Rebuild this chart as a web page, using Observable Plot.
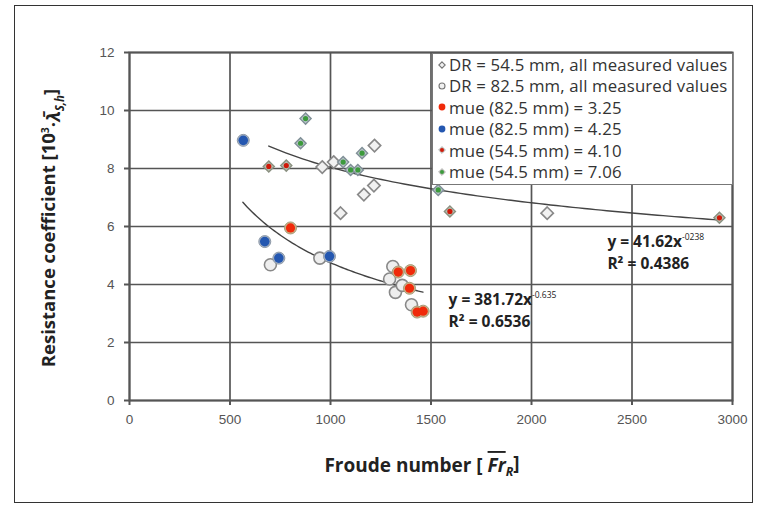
<!DOCTYPE html>
<html>
<head>
<meta charset="utf-8">
<script src="https://cdn.jsdelivr.net/npm/d3@7"></script>
<script src="https://cdn.jsdelivr.net/npm/@observablehq/plot@0.6"></script>
<style>
  html, body { margin: 0; padding: 0; background: #fff; }
  #wrap { position: relative; width: 761px; height: 505px; overflow: hidden; }
  #border { position: absolute; left: 14px; top: 5px; width: 737px; height: 496px; border: 1.5px solid #333; pointer-events: none; }
  #legend { position: absolute; left: 432px; top: 53px; width: 299px; height: 130px; background: #fff;
            border: 1.5px solid #777; font-family: "Open Sans", sans-serif; font-size: 16.8px; color: #333;
            letter-spacing: 0.15px; }
  #legend .row { height: 21.4px; line-height: 21.4px; white-space: nowrap; display: flex; align-items: center; }
  #legend svg { margin-left: 5px; margin-right: 3px; flex: none; }
</style>
</head>
<body>
<div id="wrap">
  <div id="chart"></div>
  <div id="legend"></div>
  <div id="border"></div>
</div>
<script>
// ---- data ----
const xTicks = [0, 500, 1000, 1500, 2000, 2500, 3000];
const yTicks = [0, 2, 4, 6, 8, 10, 12];

// DR = 54.5 mm, all measured values (white diamonds)
const dr545X = [959, 1016, 1219, 1166, 1216, 1050, 2078];
const dr545Y = [8.05, 8.22, 8.79, 7.10, 7.41, 6.46, 6.46];
// mue (54.5 mm) = 4.10
const mue410X = [693, 780, 1594, 2935];
const mue410Y = [8.07, 8.10, 6.52, 6.30];
// mue (54.5 mm) = 7.06
const mue706X = [851, 876, 1063, 1100, 1136, 1157, 1536];
const mue706Y = [8.87, 9.72, 8.22, 7.95, 7.95, 8.53, 7.26];
// DR = 82.5 mm, all measured values (white circles)
const dr825X = [701, 947, 1310, 1294, 1323, 1403, 1357];
const dr825Y = [4.68, 4.91, 4.62, 4.19, 3.73, 3.30, 3.97];
// mue (82.5 mm) = 3.25
const mue325X = [801, 1337, 1398, 1393, 1431, 1461];
const mue325Y = [5.95, 4.43, 4.48, 3.87, 3.05, 3.08];
// mue (82.5 mm) = 4.25
const mue425X = [566, 673, 743, 995];
const mue425Y = [8.97, 5.48, 4.91, 4.97];

// power trend lines y = a * x^b, drawn over [from, to]
const fitNames = ["upper", "lower"];
const fitA = [41.62, 381.72];
const fitB = [-0.238, -0.635];
const fitFrom = [693, 564];
const fitTo = [2935, 1460];
const fitEq = ["y = 41.62x", "y = 381.72x"];
const fitExp = ["-0238", "-0.635"];
const fitR2 = ["R² = 0.4386", "R² = 0.6536"];
const fitLabelX = [2380, 1590];
const fitLabelY = [5.45, 3.45];

const legendLabels = [
  "DR = 54.5 mm, all measured values",
  "DR = 82.5 mm, all measured values",
  "mue (82.5 mm) = 3.25",
  "mue (82.5 mm) = 4.25",
  "mue (54.5 mm) = 4.10",
  "mue (54.5 mm) = 7.06"
];

// ---- tables ----
const pts = (X, Y) => X.map((x, i) => ({x, y: Y[i]}));
const fitLines = [];
fitNames.forEach((n, k) => {
  const steps = 80;
  for (let i = 0; i <= steps; i++) {
    const x = fitFrom[k] + (fitTo[k] - fitFrom[k]) * i / steps;
    fitLines.push({name: n, x, y: fitA[k] * Math.pow(x, fitB[k])});
  }
});

const RED = "#f02a0a", BLUE = "#2457b0", GREEN = "#3c9a3c", DRED = "#d01808";

const plot = Plot.plot({
  width: 761, height: 505,
  marginLeft: 129, marginRight: 29, marginTop: 52, marginBottom: 105,
  x: {domain: [0, 3000], ticks: xTicks},
  y: {domain: [0, 12], ticks: yTicks},
  style: {fontFamily: "'Liberation Sans', Arial, sans-serif", fontSize: "13.5px", color: "#555", background: "transparent", overflow: "visible"},
  marks: [
    Plot.gridX(xTicks, {stroke: "#555", strokeOpacity: 1, strokeWidth: 1.7}),
    Plot.gridY(yTicks, {stroke: "#555", strokeOpacity: 1, strokeWidth: 1.7}),
    Plot.frame({stroke: "#555", strokeWidth: 2}),
    Plot.axisX({ticks: xTicks, tickSize: 5, tickPadding: 9, label: null, tickFormat: d => String(d), stroke: "#555", strokeWidth: 2, fill: "#555"}),
    Plot.axisY({ticks: yTicks, tickSize: 5, tickPadding: 10, label: null, tickFormat: d => String(d), stroke: "#555", strokeWidth: 2, fill: "#555"}),
    Plot.line(fitLines, {x: "x", y: "y", z: "name", stroke: "#444", strokeWidth: 1.4, curve: "linear"}),
    // diamonds
    Plot.dot(pts(dr545X, dr545Y), {x: "x", y: "y", symbol: "diamond2", r: 5.6, fill: "#f1f1f1", stroke: "#888", strokeWidth: 1.6}),
    Plot.dot(pts(mue410X, mue410Y), {x: "x", y: "y", symbol: "diamond2", r: 5.0, fill: "#b9bfb0", stroke: "#8a9080", strokeWidth: 1.4}),
    Plot.dot(pts(mue410X, mue410Y), {x: "x", y: "y", r: 2.6, fill: DRED, stroke: "none"}),
    Plot.dot(pts(mue706X, mue706Y), {x: "x", y: "y", symbol: "diamond2", r: 5.0, fill: "#b9c3c9", stroke: "#7f8f96", strokeWidth: 1.4}),
    Plot.dot(pts(mue706X, mue706Y), {x: "x", y: "y", r: 2.6, fill: GREEN, stroke: "none"}),
    // circles
    Plot.dot(pts(dr825X, dr825Y), {x: "x", y: "y", r: 6, fill: "#eeeeee", stroke: "#888", strokeWidth: 1.6}),
    Plot.dot(pts(mue325X, mue325Y), {x: "x", y: "y", r: 6, fill: "#c9b48a", stroke: "#a89a78", strokeWidth: 1}),
    Plot.dot(pts(mue325X, mue325Y), {x: "x", y: "y", r: 4.6, fill: RED, stroke: "none"}),
    Plot.dot(pts(mue425X, mue425Y), {x: "x", y: "y", r: 6, fill: "#a7b3c4", stroke: "#8d99a8", strokeWidth: 1}),
    Plot.dot(pts(mue425X, mue425Y), {x: "x", y: "y", r: 4.8, fill: BLUE, stroke: "none"})
  ]
});
document.getElementById("chart").appendChild(plot);

// ---- text additions (labels and fit equations) ----
const svg = d3.select(plot);
const sx = plot.scale("x"), sy = plot.scale("y");

// fit equations
fitNames.forEach((n, k) => {
  const g = svg.append("g").attr("font-family", "'Open Sans', sans-serif").attr("font-weight", 700)
    .attr("font-size", 15.5).attr("fill", "#222").attr("text-anchor", "start");
  const t = g.append("text").attr("x", sx.apply(fitLabelX[k])).attr("y", sy.apply(fitLabelY[k]))
    .attr("dy", "0.35em");
  t.append("tspan").text(fitEq[k]);
  t.append("tspan").text(fitExp[k]).attr("font-size", 8.5).attr("font-weight", 400).attr("dy", "-0.9em");
  g.append("text").attr("x", sx.apply(fitLabelX[k])).attr("y", sy.apply(fitLabelY[k]))
    .attr("dy", "1.75em").text(fitR2[k]);
});

// y axis title
const yt = svg.append("text")
  .attr("transform", `translate(55, 228) rotate(-90)`)
  .attr("text-anchor", "middle")
  .attr("font-family", "'Open Sans', sans-serif").attr("font-weight", 700).attr("font-size", 18.5).attr("fill", "#222");
yt.append("tspan").text("Resistance coefficient [10");
yt.append("tspan").text("3").attr("font-size", 10.5).attr("dy", "-0.6em");
yt.append("tspan").text("·").attr("dy", "0.6em");
yt.append("tspan").text("λ\u0304").attr("font-style", "italic");
yt.append("tspan").text("S,h").attr("font-style", "italic").attr("font-size", 11.5).attr("dy", "0.35em");
yt.append("tspan").text("]").attr("dy", "-0.35em");

// x axis title
const xt = svg.append("text")
  .attr("x", 422).attr("y", 472)
  .attr("text-anchor", "middle")
  .attr("font-family", "'Open Sans', sans-serif").attr("font-weight", 700).attr("font-size", 19).attr("fill", "#222");
xt.append("tspan").text("Froude number [ ");
xt.append("tspan").text("Fr").attr("font-style", "italic").attr("text-decoration", "overline");
xt.append("tspan").text("R").attr("font-style", "italic").attr("font-size", 12.5).attr("dy", "0.3em");
xt.append("tspan").text("]").attr("dy", "-0.3em");

// ---- legend ----
const legendSymbols = [
  {shape: "diamond", fill: "#f1f1f1", stroke: "#777"},
  {shape: "circle", fill: "#f1f1f1", stroke: "#777"},
  {shape: "dot", fill: RED},
  {shape: "dot", fill: BLUE},
  {shape: "ddot", fill: DRED},
  {shape: "ddot", fill: GREEN}
];
const leg = d3.select("#legend");
legendLabels.forEach((lab, i) => {
  const row = leg.append("div").attr("class", "row");
  const s = row.append("svg").attr("width", 8).attr("height", 8);
  const sym = legendSymbols[i];
  if (sym.shape === "diamond") s.append("path").attr("d", "M4,0.8 L7.2,4 L4,7.2 L0.8,4Z").attr("fill", sym.fill).attr("stroke", sym.stroke).attr("stroke-width", 1.1);
  else if (sym.shape === "circle") s.append("circle").attr("cx", 4).attr("cy", 4).attr("r", 3).attr("fill", sym.fill).attr("stroke", sym.stroke).attr("stroke-width", 1.1);
  else if (sym.shape === "dot") s.append("circle").attr("cx", 4).attr("cy", 4).attr("r", 3.4).attr("fill", sym.fill);
  else {
    s.append("path").attr("d", "M4,0.6 L7.4,4 L4,7.4 L0.6,4Z").attr("fill", "#c8c8c0").attr("stroke", "#aaa").attr("stroke-width", 0.8);
    s.append("circle").attr("cx", 4).attr("cy", 4).attr("r", 2).attr("fill", sym.fill);
  }
  row.append("span").text(lab);
});
</script>
</body>
</html>
